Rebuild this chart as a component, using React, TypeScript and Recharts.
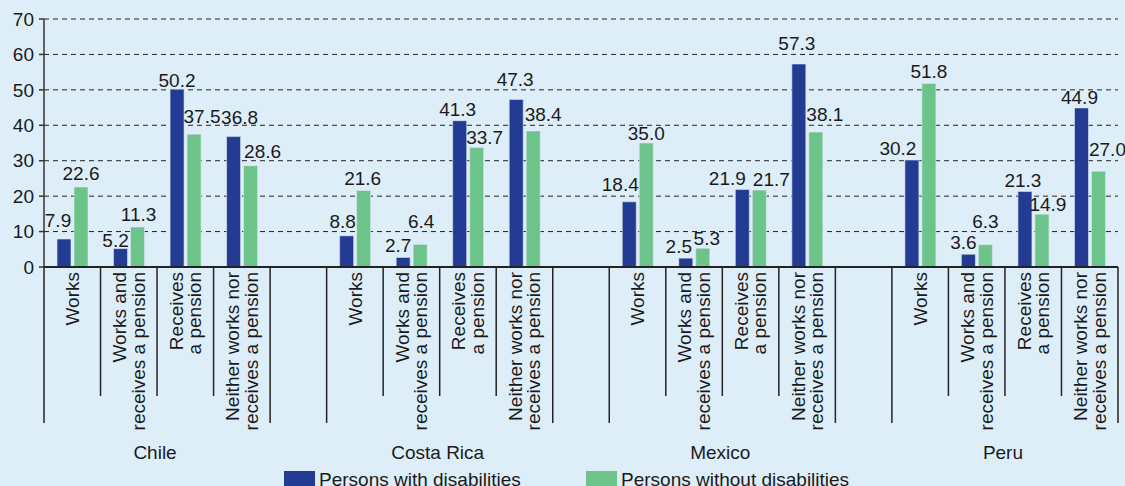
import React from "react";
import {
  BarChart,
  Bar,
  XAxis,
  YAxis,
  CartesianGrid,
  LabelList,
} from "recharts";

const countries = ["Chile", "Costa Rica", "Mexico", "Peru"];
const categories = [
  ["Works"],
  ["Works and", "receives a pension"],
  ["Receives", "a pension"],
  ["Neither works nor", "receives a pension"],
];
const withDisab = [
  [7.9, 5.2, 50.2, 36.8],
  [8.8, 2.7, 41.3, 47.3],
  [18.4, 2.5, 21.9, 57.3],
  [30.2, 3.6, 21.3, 44.9],
];
const withoutDisab = [
  [22.6, 11.3, 37.5, 28.6],
  [21.6, 6.4, 33.7, 38.4],
  [35.0, 5.3, 21.7, 38.1],
  [51.8, 6.3, 14.9, 27.0],
];
const yTicks = [0, 10, 20, 30, 40, 50, 60, 70];

// hand placement of the value labels in the original: [dx, gap above bar]
const blueLabelShift = [
  [[-6, 12], [-5, 2], [0, 2], [6, 13]],
  [[-4, 8], [-5, 5], [-2, 5], [-1, 13]],
  [[-9, 11], [-7, 5], [-15, 4], [-2, 14]],
  [[-14, 5], [-5, 5], [-2, 5], [-2, 4]],
];
const greenLabelShift = [
  [[0, 7], [1, 6], [8, 11], [12, 8]],
  [[-1, 5], [1, 16], [8, 4], [10, 10]],
  [[0, 3], [4, 3], [12, 4], [9, 11]],
  [[0, 5], [0, 17], [6, 3], [9, 15]],
];

const BLUE = "#233b93";
const GREEN = "#6dc48a";
const BG = "#deeef8";
const INK = "#1a1a1a";
const FONT = "'Liberation Sans', Arial, sans-serif";

const W = 1125;
const H = 486;
const LEFT = 44;
const RIGHT = 1118;
const TOP = 19;
const AXIS_Y = 267;
const SLOTS = 19;
const SLOT = (RIGHT - LEFT) / SLOTS;

type Row = {
  key: string;
  country: number;
  cat: number;
  a: number | null;
  b: number | null;
};

const rows: Row[] = [];
countries.forEach((c, ci) => {
  categories.forEach((_, k) => {
    rows.push({
      key: `${c}-${k}`,
      country: ci,
      cat: k,
      a: withDisab[ci][k],
      b: withoutDisab[ci][k],
    });
  });
  if (ci < countries.length - 1) {
    rows.push({ key: `gap-${ci}`, country: ci, cat: -1, a: null, b: null });
  }
});

const CategoryTick = (props: any) => {
  const { x, index } = props;
  const row = rows[index];
  if (!row) return null;
  const left = x - SLOT / 2;
  const right = x + SLOT / 2;
  const longEnd = 423;
  const shortEnd = 396;
  const els: React.ReactNode[] = [];
  const isLongLeft = row.cat === 0 || row.cat === -1;
  els.push(
    <line
      key="l"
      x1={left}
      x2={left}
      y1={AXIS_Y}
      y2={isLongLeft ? longEnd : shortEnd}
      stroke="#222"
      strokeWidth={1.5}
    />
  );
  if (index === rows.length - 1) {
    els.push(
      <line
        key="r"
        x1={right}
        x2={right}
        y1={AXIS_Y}
        y2={longEnd}
        stroke="#222"
        strokeWidth={1.5}
      />
    );
  }
  if (row.cat >= 0) {
    const lines = categories[row.cat];
    const lh = 18.5;
    lines.forEach((t, li) => {
      const cx = x + (li - (lines.length - 1) / 2) * lh;
      els.push(
        <g key={`t${li}`} transform={`translate(${cx}, ${AXIS_Y + 5}) rotate(-90)`}>
          <text
            x={0}
            y={0}
            dy="0.35em"
            textAnchor="end"
            fontSize={19}
            fontFamily={FONT}
            fill={INK}
          >
            {t}
          </text>
        </g>
      );
    });
  }
  if (row.cat === 1) {
    els.push(
      <text
        key="c"
        x={right - 2}
        y={459}
        textAnchor="middle"
        fontSize={19}
        fontFamily={FONT}
        fill={INK}
      >
        {countries[row.country]}
      </text>
    );
  }
  return <g>{els}</g>;
};

// label index skips the empty gap rows, so find the slot from the bar position
const makeLabel = (shift: number[][][]) => (p: any) => {
  const { x, y, width, value } = p;
  if (value == null) return null;
  const cx = Number(x) + Number(width) / 2;
  const slot = Math.floor((cx - LEFT) / SLOT);
  const row = rows[slot];
  if (!row || row.cat < 0) return null;
  const [dx, gap] = shift[row.country][row.cat];
  return (
    <text
      x={cx + dx}
      y={Number(y) - gap}
      textAnchor="middle"
      fontSize={19}
      fontFamily={FONT}
      fill={INK}
    >
      {Number(value).toFixed(1)}
    </text>
  );
};

const App = () => {
  return (
    <div
      style={{
        position: "absolute",
        left: 0,
        top: 0,
        width: W,
        height: H,
        background: BG,
        overflow: "hidden",
        fontFamily: FONT,
      }}
    >
      <BarChart
        width={W}
        height={H}
        data={rows}
        margin={{ top: TOP, right: W - RIGHT, left: 0, bottom: 0 }}
        barCategoryGap={13}
        barGap={3}
      >
        <CartesianGrid
          vertical={false}
          stroke="#222"
          strokeDasharray="5 4"
          strokeWidth={1}
        />
        <XAxis
          dataKey="key"
          interval={0}
          height={H - AXIS_Y}
          tickLine={false}
          axisLine={{ stroke: "#222", strokeWidth: 2 }}
          tick={<CategoryTick />}
        />
        <YAxis
          width={LEFT}
          domain={[0, 70]}
          ticks={yTicks}
          interval={0}
          tickSize={5}
          tickMargin={5}
          axisLine={{ stroke: "#333", strokeWidth: 1.5 }}
          tickLine={{ stroke: "#333", strokeWidth: 1.5 }}
          tick={{ fontSize: 19, fill: INK, fontFamily: FONT }}
        />
        <Bar
          dataKey="a"
          fill={BLUE}
          stroke="#dbe9f3"
          strokeWidth={0.6}
          isAnimationActive={false}
        >
          <LabelList dataKey="a" content={makeLabel(blueLabelShift)} />
        </Bar>
        <Bar
          dataKey="b"
          fill={GREEN}
          stroke="#dbe9f3"
          strokeWidth={0.6}
          isAnimationActive={false}
        >
          <LabelList dataKey="b" content={makeLabel(greenLabelShift)} />
        </Bar>
      </BarChart>
      <div
        style={{
          position: "absolute",
          top: 470,
          left: 284,
          display: "flex",
          alignItems: "center",
          fontSize: 19,
          color: INK,
          lineHeight: "19px",
          whiteSpace: "nowrap",
        }}
      >
        <span
          style={{
            display: "inline-block",
            width: 31,
            height: 17,
            background: BLUE,
            marginRight: 4,
          }}
        />
        <span style={{ width: 267 }}>Persons with disabilities</span>
        <span
          style={{
            display: "inline-block",
            width: 31,
            height: 17,
            background: GREEN,
            marginRight: 4,
          }}
        />
        <span>Persons without disabilities</span>
      </div>
    </div>
  );
};

export default App;
